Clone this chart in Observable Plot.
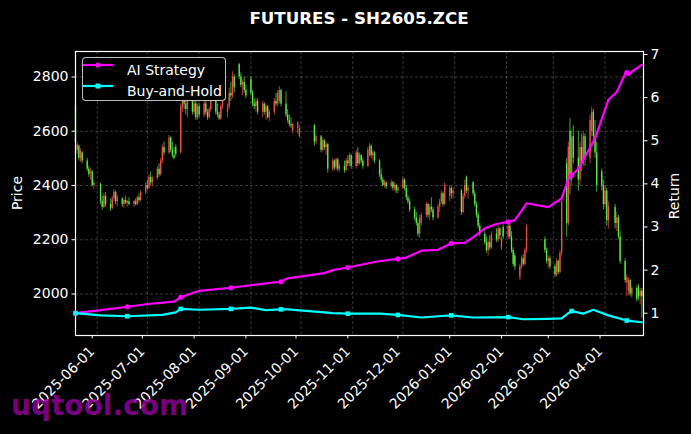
<!DOCTYPE html>
<html><head><meta charset="utf-8">
<script src="https://cdn.jsdelivr.net/npm/d3@7"></script>
<script src="https://cdn.jsdelivr.net/npm/@observablehq/plot@0.6"></script>
<style>
html,body{margin:0;padding:0;background:#000;}
#fig{position:relative;width:691px;height:434px;background:#000;overflow:hidden;font-family:"DejaVu Sans",sans-serif;color:#fff;}
#fig svg{position:absolute;left:0;top:0;}
.title{position:absolute;left:75px;width:568px;top:8px;text-align:center;font-weight:bold;font-size:16.7px;line-height:20px;}
.ylab{position:absolute;font-size:14px;line-height:16px;transform:translate(-50%,-50%) rotate(-90deg);white-space:nowrap;}
.legend{position:absolute;left:82px;top:57px;width:142px;height:42px;border:1px solid rgba(210,210,210,0.9);border-radius:4px;background:#000;}
.lrow{position:absolute;left:0;height:20px;font-size:14px;line-height:20px;white-space:nowrap;}
.lrow svg{position:absolute !important;left:5px;top:5px;}
.lrow span{position:absolute;left:44px;top:0;}
.wm{position:absolute;left:11px;top:392px;font-weight:bold;font-size:28px;line-height:28px;color:rgba(140,0,150,0.85);white-space:nowrap;}
</style></head>
<body><div id="fig"></div>
<script>
// ---- data ----
const firstDay = "2025-05-19", lastDay = "2026-04-23";
const holidays = ["2025-06-02","2025-10-01","2025-10-02","2025-10-03","2025-10-06","2025-10-07","2025-10-08",
  "2026-01-01","2026-01-02","2026-02-16","2026-02-17","2026-02-18","2026-02-19","2026-02-20","2026-02-23","2026-04-06"];
const opens = [2695,2530,2545,2500,2520,2490,2460,2445,2450,2400,2405,2340,2320,2360,2330,2315,2350,2375,2340,2350,
 2330,2345,2335,2340,2330,2340,2330,2355,2345,2375,2400,2390,2430,2410,2425,2460,2440,2490,2540,2520,
 2575,2530,2510,2540,2520,2690,2740,2700,2680,2710,2670,2700,2650,2690,2660,2700,2670,2650,2680,2720,
 2670,2660,2645,2690,2670,2690,2740,2730,2800,2845,2800,2770,2780,2750,2790,2740,2700,2690,2710,2670,
 2700,2670,2690,2650,2670,2710,2700,2710,2750,2700,2660,2640,2625,2600,2610,2580,2620,2560,2580,2530,
 2565,2540,2550,2460,2490,2465,2495,2460,2470,2455,2490,2480,2510,2470,2520,2480,2510,2490,2470,2510,
 2545,2510,2520,2490,2440,2420,2400,2410,2395,2410,2390,2400,2380,2390,2420,2390,2355,2340,2310,2280,
 2260,2220,2260,2290,2330,2290,2320,2310,2280,2320,2340,2370,2330,2360,2390,2370,2380,2300,2360,2430,
 2380,2410,2370,2330,2290,2250,2220,2190,2160,2190,2170,2220,2200,2240,2170,2245,2210,2250,2210,2160,
 2140,2060,2100,2130,2110,2160,2200,2160,2120,2130,2100,2070,2120,2080,2150,2480,2260,2600,2420,2580,
 2500,2420,2540,2480,2580,2500,2600,2670,2580,2520,2450,2400,2330,2380,2270,2320,2260,2280,2210,2120,
 2040,2010,2050,2000,2020,2025,1990,2010];
const highs = [2700,2560,2548,2535,2525,2500,2470,2462,2455,2420,2410,2360,2370,2375,2350,2360,2385,2380,2365,2355,
 2350,2360,2345,2355,2345,2350,2360,2370,2380,2410,2420,2440,2450,2435,2470,2480,2500,2550,2560,2585,
 2580,2560,2540,2550,2700,2760,2750,2730,2720,2725,2720,2710,2700,2700,2720,2710,2680,2690,2730,2725,
 2700,2670,2700,2740,2700,2760,2780,2820,2810,2850,2815,2790,2800,2770,2800,2750,2720,2720,2720,2710,
 2705,2700,2695,2680,2720,2740,2750,2765,2755,2745,2680,2660,2650,2630,2635,2620,2625,2590,2585,2575,
 2570,2560,2555,2500,2495,2500,2500,2480,2490,2500,2510,2520,2515,2530,2540,2520,2515,2500,2540,2555,
 2550,2530,2525,2495,2460,2430,2420,2415,2420,2415,2410,2405,2400,2430,2425,2400,2365,2350,2320,2300,
 2270,2290,2300,2340,2335,2330,2355,2320,2330,2350,2380,2375,2410,2400,2395,2390,2385,2370,2420,2435,
 2400,2415,2380,2340,2300,2260,2240,2210,2200,2215,2230,2240,2250,2245,2210,2255,2270,2260,2230,2170,
 2150,2110,2140,2145,2170,2255,2210,2170,2140,2140,2110,2130,2125,2160,2355,2500,2560,2646,2600,2620,
 2600,2560,2590,2600,2590,2660,2690,2680,2640,2560,2460,2420,2400,2390,2340,2330,2300,2290,2230,2130,
 2070,2060,2055,2030,2030,2035,2020,2020];
const lows = [2545,2515,2490,2485,2480,2450,2430,2420,2395,2385,2330,2310,2315,2320,2305,2310,2340,2330,2320,2320,
 2315,2330,2320,2325,2320,2325,2325,2335,2340,2365,2380,2385,2400,2395,2420,2430,2435,2480,2510,2515,
 2520,2500,2495,2505,2515,2670,2680,2660,2650,2660,2660,2640,2640,2650,2650,2660,2640,2645,2670,2660,
 2650,2640,2640,2680,2650,2680,2710,2720,2740,2790,2760,2730,2740,2720,2730,2690,2680,2670,2660,2650,
 2660,2640,2645,2635,2660,2690,2690,2700,2690,2650,2630,2615,2610,2590,2590,2575,2545,2550,2520,2525,
 2530,2510,2445,2450,2455,2455,2450,2450,2445,2450,2470,2470,2460,2460,2470,2475,2480,2460,2465,2505,
 2500,2490,2480,2430,2410,2395,2390,2385,2390,2380,2380,2370,2370,2385,2380,2345,2330,2300,2270,2250,
 2210,2205,2250,2280,2280,2270,2300,2270,2275,2300,2330,2320,2325,2340,2350,2350,2290,2295,2350,2370,
 2350,2360,2320,2280,2240,2210,2180,2150,2140,2160,2165,2190,2190,2200,2160,2200,2200,2200,2150,2100,
 2088,2050,2090,2100,2105,2150,2150,2110,2095,2090,2060,2062,2070,2075,2140,2210,2250,2365,2400,2480,
 2380,2400,2450,2470,2470,2480,2580,2560,2500,2375,2380,2310,2320,2250,2240,2240,2230,2200,2110,2040,
 1990,1995,1990,1985,1970,1975,1960,1910];
const closes = [2560,2550,2500,2525,2490,2460,2440,2450,2400,2410,2340,2320,2360,2330,2315,2350,2375,2340,2355,2330,
 2345,2335,2340,2330,2340,2330,2355,2345,2375,2400,2390,2430,2410,2425,2460,2440,2490,2540,2520,2575,
 2530,2510,2500,2515,2690,2740,2700,2680,2710,2670,2700,2650,2690,2660,2700,2670,2650,2680,2720,2670,
 2660,2645,2690,2730,2690,2740,2730,2800,2760,2800,2770,2780,2750,2730,2740,2700,2690,2710,2670,2700,
 2670,2690,2650,2670,2710,2700,2740,2750,2700,2660,2640,2625,2620,2625,2630,2610,2560,2580,2530,2565,
 2540,2550,2460,2490,2465,2495,2460,2470,2455,2490,2480,2510,2470,2520,2480,2510,2490,2470,2530,2545,
 2510,2520,2490,2440,2420,2400,2410,2395,2410,2390,2400,2380,2390,2420,2390,2355,2340,2310,2280,2260,
 2220,2280,2290,2330,2290,2320,2310,2280,2320,2340,2370,2330,2400,2390,2370,2380,2300,2360,2400,2380,
 2390,2370,2330,2290,2250,2220,2190,2160,2190,2170,2220,2200,2240,2215,2200,2210,2250,2210,2160,2110,
 2100,2100,2130,2110,2160,2250,2160,2120,2130,2100,2070,2120,2080,2150,2340,2260,2540,2420,2580,2500,
 2420,2540,2480,2580,2500,2640,2670,2580,2520,2400,2400,2330,2380,2270,2320,2260,2280,2210,2120,2050,
 2060,2050,2000,2020,1980,1990,2010,1990];
const priceTicks = [2000, 2200, 2400, 2600, 2800];
const returnTicks = [1, 2, 3, 4, 5, 6, 7];
const monthTicks = ["2025-06-01","2025-07-01","2025-08-01","2025-09-01","2025-10-01","2025-11-01","2025-12-01",
  "2026-01-01","2026-02-01","2026-03-01","2026-04-01"];
const aiDates = ["2025-05-19","2025-06-09","2025-06-19","2025-07-03","2025-07-17","2025-07-21","2025-08-01","2025-08-20",
 "2025-09-10","2025-09-19","2025-09-23","2025-10-15","2025-10-20","2025-10-29","2025-11-17","2025-11-28","2025-12-03",
 "2025-12-12","2025-12-22","2025-12-30","2026-01-07","2026-01-12","2026-01-19","2026-01-26","2026-02-02","2026-02-06",
 "2026-02-11","2026-02-13","2026-02-26","2026-03-06","2026-03-10","2026-03-12","2026-03-16","2026-03-26","2026-04-03",
 "2026-04-08","2026-04-13","2026-04-14","2026-04-15","2026-04-17","2026-04-23"];
const aiValues = [1.00,1.10,1.15,1.22,1.27,1.37,1.52,1.59,1.69,1.73,1.81,1.93,2.00,2.06,2.21,2.26,2.29,2.45,2.47,2.62,
 2.63,2.76,2.97,3.07,3.12,3.16,3.43,3.55,3.46,3.66,4.12,4.20,4.35,5.05,5.95,6.13,6.55,6.58,6.52,6.60,6.76];
const bhDates = ["2025-05-19","2025-06-03","2025-06-19","2025-07-10","2025-07-18","2025-07-21","2025-08-01","2025-08-20",
 "2025-09-01","2025-09-10","2025-09-19","2025-09-23","2025-10-15","2025-10-20","2025-10-29","2025-11-17","2025-11-28",
 "2025-12-12","2025-12-22","2025-12-30","2026-01-12","2026-02-02","2026-02-11","2026-02-26","2026-03-06","2026-03-10",
 "2026-03-12","2026-03-19","2026-03-25","2026-04-03","2026-04-14","2026-04-23"];
const bhValues = [1.00,0.95,0.93,0.96,1.02,1.10,1.08,1.10,1.13,1.07,1.09,1.09,1.02,1.00,0.99,0.99,0.96,0.90,0.93,0.95,
 0.90,0.91,0.86,0.87,0.88,1.00,1.05,0.99,1.08,0.95,0.83,0.79];
const markerDates = ["2025-05-19","2025-06-19","2025-07-21","2025-08-20","2025-09-19","2025-10-29","2025-11-28",
 "2025-12-30","2026-02-02","2026-03-12","2026-04-14"];

// ---- build ----
const hol = new Set(holidays);
const tradingDays = [];
for (let d = new Date(firstDay); d <= new Date(lastDay); d = new Date(d.getTime() + 864e5)) {
  const s = d.toISOString().slice(0,10), wd = d.getUTCDay();
  if (wd !== 0 && wd !== 6 && !hol.has(s)) tradingDays.push(new Date(s));
}
const n = Math.min(tradingDays.length, closes.length);
const candles = d3.range(n).map(i => ({date: tradingDays[i], open: opens[i], high: highs[i], low: lows[i], close: closes[i]}));
const ai = aiDates.map((d,i) => ({date: new Date(d), value: aiValues[i], key: d}));
const bh = bhDates.map((d,i) => ({date: new Date(d), value: bhValues[i], key: d}));
const mk = new Set(markerDates);
const UP = "#f0524a", DOWN = "#5cec46";
const W = 691, H = 434, mL = 75, mR = 48, mT = 51, mB = 99;
const xDomain = [new Date("2025-05-19"), new Date("2026-04-24")];
const xt = monthTicks.map(d => new Date(d));
const common = {width: W, height: H, marginLeft: mL, marginRight: mR, marginTop: mT, marginBottom: mB,
  style: {background: "transparent", color: "#fff", fontFamily: "DejaVu Sans", fontSize: "14px", overflow: "visible"}};
const colorOf = d => d.close >= d.open ? UP : DOWN;

const p1 = Plot.plot({...common,
  x: {domain: xDomain},
  y: {domain: [1847, 2894]},
  marks: [
    Plot.gridX(xt, {stroke: "#fff", strokeOpacity: 0.28, strokeDasharray: "3,2", strokeWidth: 0.8}),
    Plot.gridY(priceTicks, {stroke: "#fff", strokeOpacity: 0.28, strokeDasharray: "3,2", strokeWidth: 0.8}),
    Plot.ruleX(candles, {x: "date", y1: "low", y2: "high", stroke: colorOf, strokeWidth: 0.7}),
    Plot.ruleX(candles, {x: "date", y1: "open", y2: "close", stroke: colorOf, strokeWidth: 1.3}),
    Plot.axisX(xt, {tickFormat: d3.utcFormat("%Y-%m-%d"), tickRotate: -45, tickSize: 3.5, tickPadding: 10, dx: -5, fontSize: 14, label: null}),
    Plot.axisY(priceTicks, {anchor: "left", tickSize: 3.5, tickPadding: 3.5, fontSize: 14, label: null, tickFormat: "d"}),
    Plot.frame({stroke: "#fff", strokeWidth: 1.2})
  ]
});

const p2 = Plot.plot({...common,
  x: {domain: xDomain, axis: null},
  y: {domain: [0.483, 7.07], axis: null},
  marks: [
    Plot.line(ai, {x: "date", y: "value", stroke: "#ff00ff", strokeWidth: 2.2}),
    Plot.dot(ai.filter(d => mk.has(d.key)), {x: "date", y: "value", r: 2.6, fill: "#ff00ff", symbol: "circle"}),
    Plot.line(bh, {x: "date", y: "value", stroke: "#00ffff", strokeWidth: 2.2}),
    Plot.dot(bh.filter(d => mk.has(d.key)), {x: "date", y: "value", r: 2.6, fill: "#00ffff", symbol: "square"}),
    Plot.axisY(returnTicks, {anchor: "right", tickSize: 3.5, tickPadding: 3.5, fontSize: 14, label: null, tickFormat: "d"})
  ]
});

const fig = document.getElementById("fig");
fig.appendChild(p1);
fig.appendChild(p2);

function addDiv(cls, html, style) {
  const el = document.createElement("div");
  el.className = cls; el.innerHTML = html;
  if (style) Object.assign(el.style, style);
  fig.appendChild(el); return el;
}
addDiv("title", "FUTURES - SH2605.ZCE");
addDiv("ylab", "Price", {left: "17px", top: "193px"});
addDiv("ylab", "Return", {left: "674px", top: "196px"});
const lg = addDiv("legend", "");
function legendRow(top, color, sym, text) {
  const r = document.createElement("div");
  r.className = "lrow"; r.style.top = top + "px"; r.style.width = "140px";
  const marker = sym === "circle"
    ? `<circle cx="15" cy="5" r="2.6" fill="${color}"/>`
    : `<rect x="12.5" y="2.5" width="5" height="5" fill="${color}"/>`;
  r.innerHTML = `<svg width="30" height="10"><line x1="0" y1="5" x2="30" y2="5" stroke="${color}" stroke-width="2.2"/>${marker}</svg><span>${text}</span>`;
  lg.appendChild(r);
}
legendRow(2, "#ff00ff", "circle", "AI Strategy");
legendRow(23, "#00ffff", "square", "Buy-and-Hold");
addDiv("wm", "uqtool.com");
</script>
</body></html>
